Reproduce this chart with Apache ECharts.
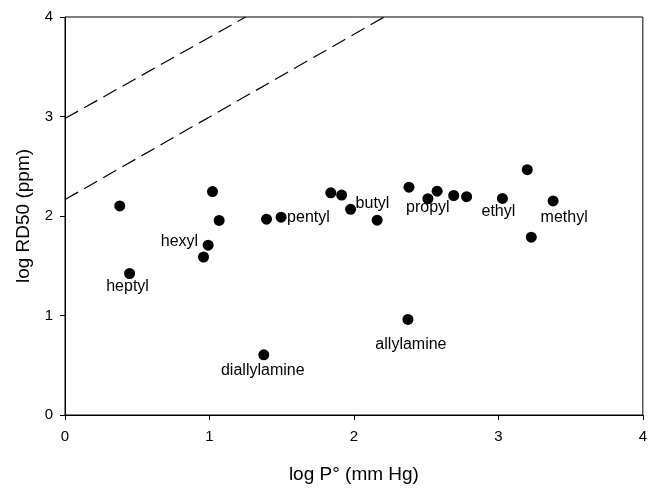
<!DOCTYPE html>
<html>
<head>
<meta charset="utf-8">
<script src="https://cdn.jsdelivr.net/npm/echarts@6/dist/echarts.min.js"></script>
<style>html,body{margin:0;padding:0;background:#fff;overflow:hidden}#c{width:650px;height:489px}</style>
</head>
<body>
<div id="c"></div>
<script>
// Data
const xVals = [0.379, 0.447, 0.959, 0.991, 1.021, 1.067, 1.376, 1.395, 1.496, 1.840, 1.915, 1.977, 2.161, 2.381, 2.374, 2.512, 2.576, 2.691, 2.780, 3.028, 3.200, 3.228, 3.379];
const yVals = [2.101, 1.422, 1.588, 1.707, 2.246, 1.955, 0.605, 1.968, 1.988, 2.233, 2.210, 2.067, 1.958, 2.290, 0.960, 2.174, 2.250, 2.206, 2.194, 2.177, 2.465, 1.787, 2.151];
const pointNames = ['', 'heptyl', '', 'hexyl', '', '', 'diallylamine', '', 'pentyl', '', '', 'butyl', '', '', 'allylamine', 'propyl', '', '', '', 'ethyl', '', '', 'methyl'];
const line1X = [0, 1.25];
const line1Y = [2.98, 4];
const line2X = [0, 2.21];
const line2Y = [2.165, 4];
const xTicks = [0, 1, 2, 3, 4];
const yTicks = [0, 1, 2, 3, 4];

// label placement styles (not data)
const labelStyle = {
  heptyl: {align: 'center', offset: [-2, 13]},
  hexyl: {align: 'right', offset: [-10, -4]},
  diallylamine: {align: 'center', offset: [-1, 16]},
  pentyl: {align: 'left', offset: [6, 0]},
  butyl: {align: 'left', offset: [5, -6]},
  allylamine: {align: 'center', offset: [3, 25]},
  propyl: {align: 'center', offset: [0, 9]},
  ethyl: {align: 'center', offset: [-4, 13]},
  methyl: {align: 'center', offset: [11, 17]}
};

const FONT = '"Liberation Sans", Arial, sans-serif';

const scatterData = xVals.map((x, i) => {
  const name = pointNames[i];
  const item = {value: [x, yVals[i]], name: name};
  if (name) {
    const st = labelStyle[name];
    item.label = {show: true, position: 'inside', formatter: '{b}', align: st.align, verticalAlign: 'middle',
      offset: st.offset, color: '#000', fontSize: 16, fontFamily: FONT, textBorderWidth: 0};
  }
  return item;
});

const chart = echarts.init(document.getElementById('c'), null, {renderer: 'canvas'});
chart.setOption({
  animation: false,
  backgroundColor: '#fff',
  grid: {left: 65, right: 3, top: 17, bottom: 69, show: true, borderColor: '#000', borderWidth: 1, backgroundColor: 'transparent'},
  xAxis: {
    type: 'value', min: xTicks[0], max: xTicks[xTicks.length - 1], interval: 1,
    name: 'log P° (mm Hg)', nameLocation: 'middle', nameGap: 50,
    nameTextStyle: {fontSize: 19, fontFamily: FONT, color: '#000'},
    axisLine: {show: true, lineStyle: {color: '#000', width: 1}},
    axisTick: {show: true, inside: false, length: 5, lineStyle: {color: '#000'}},
    axisLabel: {fontSize: 15, fontFamily: FONT, color: '#000', margin: 14},
    splitLine: {show: false}
  },
  yAxis: {
    type: 'value', min: yTicks[0], max: yTicks[yTicks.length - 1], interval: 1,
    name: 'log RD50 (ppm)', nameLocation: 'middle', nameGap: 30,
    nameTextStyle: {fontSize: 19, fontFamily: FONT, color: '#000'},
    axisLine: {show: true, lineStyle: {color: '#000', width: 1}},
    axisTick: {show: true, inside: false, length: 5, lineStyle: {color: '#000'}},
    axisLabel: {fontSize: 15, fontFamily: FONT, color: '#000', margin: 12},
    splitLine: {show: false}
  },
  series: [
    {
      type: 'line', data: line1X.map((x, i) => [x, line1Y[i]]), symbol: 'none', silent: true,
      lineStyle: {color: '#000', width: 1.2, type: [15, 7]}
    },
    {
      type: 'line', data: line2X.map((x, i) => [x, line2Y[i]]), symbol: 'none', silent: true,
      lineStyle: {color: '#000', width: 1.2, type: [15, 7]}
    },
    {
      type: 'scatter', data: scatterData, symbol: 'circle', symbolSize: 11,
      itemStyle: {color: '#000', opacity: 1}
    }
  ]
});
</script>
</body>
</html>
